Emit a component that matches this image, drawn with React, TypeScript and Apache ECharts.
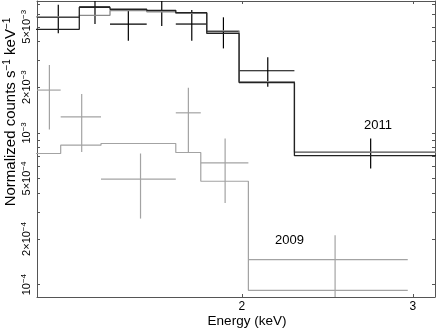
import React, { useEffect, useRef } from 'react';
import * as echarts from 'echarts';

const FONT = '"Liberation Sans", Arial, Helvetica, sans-serif';

// Axis ranges (keV, counts s^-1 keV^-1)
const X_MIN = 1.2308;
const X_MAX = 3.1623;
const Y_MIN = 8.29e-5;
const Y_MAX = 7.39e-3;

// Tick positions
const X_TICKS = [2, 3];
const Y_LABEL_TICKS = [1e-4, 2e-4, 5e-4, 1e-3, 2e-3, 5e-3];
const Y_MINOR_TICKS = [1e-4, 2e-4, 3e-4, 4e-4, 5e-4, 6e-4, 7e-4, 8e-4, 9e-4, 1e-3, 2e-3, 3e-3, 4e-3, 5e-3, 6e-3, 7e-3];

// 2011 spectrum
const E2011_LO = [1.22, 1.3606, 1.4634, 1.5965, 1.7104, 1.8408, 1.9873, 2.2659];
const E2011_HI = [1.3606, 1.4634, 1.5965, 1.7104, 1.8408, 1.9873, 2.2659, 3.25];
const E2011_MID = [1.2945, 1.4122, 1.5284, 1.6544, 1.7765, 1.9149, 2.1272, 2.7149];
const RATE2011 = [5.77e-3, 6.75e-3, 5.21e-3, 6.35e-3, 5.21e-3, 4.64e-3, 2.565e-3, 7.45e-4];
const RATE2011_LO = [4.525e-3, 5.21e-3, 4.05e-3, 5.06e-3, 4.05e-3, 3.6e-3, 2.012e-3, 5.82e-4];
const RATE2011_HI = [6.99e-3, 8.29e-3, 6.52e-3, 7.64e-3, 6.45e-3, 5.77e-3, 3.144e-3, 9.19e-4];
const MODEL2011_A = [4.81e-3, 6.72e-3, 6.52e-3, 6.42e-3, 6.19e-3, 4.52e-3, 2.144e-3, 7.07e-4];
const MODEL2011_B = [5.8e-3, 5.95e-3, 6.4e-3, 6.28e-3, 6.13e-3, 4.69e-3, 2.176e-3, 7.46e-4];

// 2009 spectrum
const E2009_LO = [1.22, 1.3019, 1.4325, 1.7104, 1.8148, 2.0316];
const E2009_HI = [1.3019, 1.4325, 1.7104, 1.8148, 2.0316, 2.9644];
const E2009_MID = [1.2675, 1.3684, 1.5732, 1.7622, 1.9226, 2.4953];
const RATE2009 = [1.913e-3, 1.275e-3, 4.95e-4, 1.355e-3, 6.34e-4, 1.462e-4];
const RATE2009_LO = [1.053e-3, 7.49e-4, 2.724e-4, 7.42e-4, 3.45e-4, 8.1e-5];
const RATE2009_HI = [2.797e-3, 1.8e-3, 7.31e-4, 1.981e-3, 9.19e-4, 2.114e-4];
const MODEL2009 = [7.31e-4, 8.3e-4, 8.51e-4, 7.42e-4, 4.8e-4, 9.17e-5];

const L = Math.log10;

function stepData(lo: number[], hi: number[], v: number[]) {
  const out: number[][] = [];
  for (let i = 0; i < v.length; i++) {
    out.push([L(lo[i]), L(v[i])]);
    out.push([L(hi[i]), L(v[i])]);
  }
  return out;
}

function crossData(mid: number[], lo: number[], hi: number[], v: number[], vlo: number[], vhi: number[]) {
  return v.map((_, i) => [L(mid[i]), L(v[i]), L(lo[i]), L(hi[i]), L(vlo[i]), L(vhi[i])]);
}

function crossSeries(data: number[][], color: string, width: number) {
  return {
    type: 'custom',
    clip: true,
    encode: { x: [0, 2, 3], y: [1, 4, 5] },
    data,
    renderItem: (params: any, api: any) => {
      const l = api.coord([api.value(2), api.value(1)]);
      const r = api.coord([api.value(3), api.value(1)]);
      const lo = api.coord([api.value(0), api.value(4)]);
      const hi = api.coord([api.value(0), api.value(5)]);
      const style = { stroke: color, lineWidth: width, fill: 'none' };
      return {
        type: 'group',
        children: [
          { type: 'line', shape: { x1: l[0], y1: l[1], x2: r[0], y2: r[1] }, style },
          { type: 'line', shape: { x1: lo[0], y1: lo[1], x2: hi[0], y2: hi[1] }, style },
        ],
      };
    },
  };
}

function stepSeries(data: number[][], color: string, width: number) {
  return {
    type: 'line',
    data,
    symbol: 'none',
    clip: true,
    lineStyle: { color, width },
    silent: true,
  };
}

const AXIS_COLOR = '#555';

function yLabel(v: number) {
  const exp = Math.floor(v + 1e-6);
  const mant = Math.round(Math.pow(10, v - exp));
  const e = `\u2212${-exp}`;
  return mant === 1 ? `{b|10}{s|${e}}` : `{b|${mant}\u00d710}{s|${e}}`;
}

export default function App() {
  const ref = useRef<HTMLDivElement>(null);
  useEffect(() => {
    const chart = echarts.init(ref.current!, null, { renderer: 'svg' });
    const xCommon = {
      type: 'value',
      min: L(X_MIN),
      max: L(X_MAX),
      axisLine: { show: true, lineStyle: { color: AXIS_COLOR, width: 1 } },
      axisTick: { show: true, inside: true, length: 3, customValues: X_TICKS.map(L), lineStyle: { color: AXIS_COLOR } },
      splitLine: { show: false },
    };
    const yCommon = {
      type: 'value',
      min: L(Y_MIN),
      max: L(Y_MAX),
      axisLine: { show: true, lineStyle: { color: AXIS_COLOR, width: 1 } },
      axisTick: { show: true, inside: true, length: 3, customValues: Y_MINOR_TICKS.map(L), lineStyle: { color: AXIS_COLOR } },
      splitLine: { show: false },
    };
    const option: any = {
      animation: false,
      grid: { left: 37, right: 1, top: 1, bottom: 34, containLabel: false, outerBoundsMode: 'none' },
      xAxis: [
        {
          ...xCommon,
          position: 'bottom',
          axisLabel: {
            show: true,
            customValues: X_TICKS.map(L),
            formatter: (v: number) => String(Math.round(Math.pow(10, v))),
            margin: 3,
            fontSize: 12,
            fontFamily: FONT,
            color: '#000',
          },
        },
        { ...xCommon, position: 'top', axisLabel: { show: false } },
      ],
      yAxis: [
        {
          ...yCommon,
          position: 'left',
          axisLabel: {
            show: true,
            customValues: Y_LABEL_TICKS.map(L),
            formatter: yLabel,
            rotate: 90,
            margin: 5,
            color: '#000',
            rich: {
              b: { fontSize: 11, fontFamily: FONT, color: '#000', lineHeight: 13 },
              s: { fontSize: 8, fontFamily: FONT, color: '#000', lineHeight: 8, verticalAlign: 'top' },
            },
          },
        },
        { ...yCommon, position: 'right', axisLabel: { show: false } },
      ],
      series: [
        stepSeries(stepData(E2009_LO, E2009_HI, MODEL2009), '#a3a3a3', 1.2),
        crossSeries(crossData(E2009_MID, E2009_LO, E2009_HI, RATE2009, RATE2009_LO, RATE2009_HI), '#a3a3a3', 1.2),
        stepSeries(stepData(E2011_LO, E2011_HI, MODEL2011_B), '#8a8a8a', 1.3),
        stepSeries(stepData(E2011_LO, E2011_HI, MODEL2011_A), '#222', 1.3),
        crossSeries(crossData(E2011_MID, E2011_LO, E2011_HI, RATE2011, RATE2011_LO, RATE2011_HI), '#000', 1.2),
      ],
      graphic: [
        {
          type: 'text',
          x: 9,
          y: 112,
          rotation: Math.PI / 2,
          style: {
            text: '{m|Normalized counts s}{s|\u22121}{m| keV}{s|\u22121}',
            align: 'center',
            verticalAlign: 'middle',
            rich: {
              m: { fontSize: 15, fontFamily: FONT, fill: '#000', lineHeight: 16 },
              s: { fontSize: 10, fontFamily: FONT, fill: '#000', lineHeight: 10, verticalAlign: 'top' },
            },
          },
        },
        {
          type: 'text',
          x: 247,
          y: 320.5,
          style: { text: 'Energy (keV)', fontSize: 13.5, fontFamily: FONT, fill: '#000', align: 'center', verticalAlign: 'middle' },
        },
        {
          type: 'text',
          x: 378,
          y: 124,
          style: { text: '2011', fontSize: 13, fontFamily: FONT, fill: '#000', align: 'center', verticalAlign: 'middle' },
        },
        {
          type: 'text',
          x: 289.5,
          y: 239,
          style: { text: '2009', fontSize: 13, fontFamily: FONT, fill: '#000', align: 'center', verticalAlign: 'middle' },
        },
      ],
    };
    chart.setOption(option);
    return () => chart.dispose();
  }, []);
  return <div ref={ref} style={{ position: 'fixed', left: 0, top: 0, width: 436, height: 331 }} />;
}
